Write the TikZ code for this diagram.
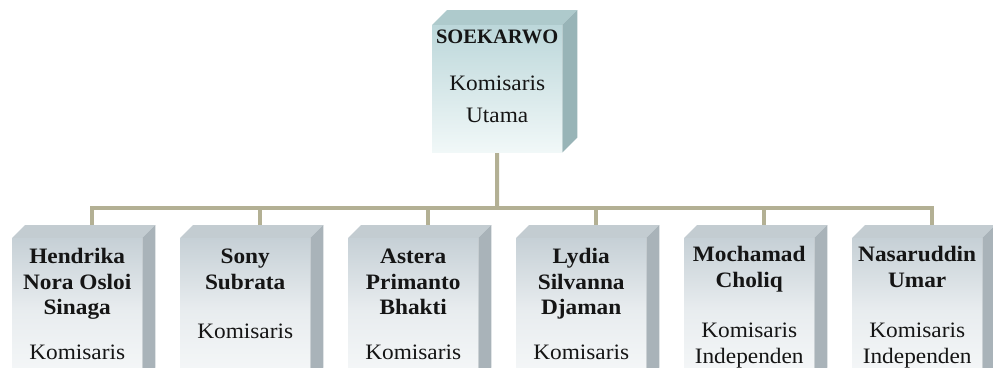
\documentclass[tikz,border=0pt]{standalone}
\usepackage{fontspec}
\setmainfont{Liberation Serif}[FakeStretch=1.06]
\newfontfamily\narrowbold{Liberation Serif}[FakeStretch=1.0]
\usetikzlibrary{calc}
\definecolor{linec}{HTML}{B3B094}
\definecolor{tfront1}{HTML}{BCD7DA}
\definecolor{tfront2}{HTML}{F1F8F8}
\definecolor{ttop}{HTML}{AECACC}
\definecolor{tside}{HTML}{98B4B7}
\definecolor{bfront1}{HTML}{C6D0D6}
\definecolor{bfront2}{HTML}{F6F8F9}
\definecolor{btop}{HTML}{C3CCD1}
\definecolor{bside}{HTML}{A9B3B9}
\definecolor{txt}{HTML}{151515}
\tikzset{
  conn/.style={draw=linec, line width=4pt},
  topfront/.style={rectangle, draw=none, minimum width=130pt, minimum height=127pt, inner sep=0pt, anchor=north west, top color=tfront1, bottom color=tfront2},
  botfront/.style={rectangle, draw=none, minimum width=130pt, minimum height=142pt, inner sep=0pt, anchor=north west, top color=bfront1, bottom color=bfront2, middle color=bfront2!70!bfront1},
  lbl/.style={anchor=base, inner sep=0pt, text=txt, font=\fontsize{22}{26}\selectfont},
  blbl/.style={lbl, font=\fontsize{22}{26}\selectfont\bfseries},
}
\begin{document}
\begin{tikzpicture}[x=1pt, y=-1pt]
\useasboundingbox (0,0) rectangle (993,367);
\clip (0,0) rectangle (993,367);
\fill[white] (0,0) rectangle (993,367);

% top box front face
\node[topfront] (top) at (432,25) {};
\coordinate (bus) at (497,208);

% bottom boxes front faces
\foreach \i in {1,...,6} {
  \pgfmathsetmacro{\xl}{12+168*(\i-1)}
  \node[botfront] (b\i) at (\xl,238) {};
  \coordinate (t\i) at ($(b\i.north west)+(80,-13)$);
}

% connectors
\draw[conn] (top.south) -- (bus);
\draw[conn, line cap=rect] (bus -| t1) -- (bus -| t6);
\foreach \i in {1,...,6} {
  \draw[conn] (bus -| t\i) -- (t\i);
}

% top box 3D faces
\fill[ttop] (top.north west) -- ++(15,-15) -- ($(top.north east)+(15,-15)$) -- (top.north east) -- cycle;
\fill[tside] (top.north east) -- ++(15,-15) -- ($(top.south east)+(15,-15)$) -- (top.south east) -- cycle;
\node[topfront] at (432,25) {};

% bottom boxes 3D faces
\foreach \i in {1,...,6} {
  \fill[btop] (b\i.north west) -- ++(13,-13) -- ($(b\i.north east)+(13,-13)$) -- (b\i.north east) -- cycle;
  \fill[bside] (b\i.north east) -- ++(13,-13) -- ($(b\i.south east)+(13,-13)$) -- (b\i.south east) -- cycle;
  \node[botfront] at ($(b\i.north west)$) {};
}

% texts top
\node[lbl, font=\fontsize{20.5}{24}\selectfont\narrowbold\bfseries] at ($(top.north)+(0,18)$) {SOEKARWO};
\node[lbl] at ($(top.north)+(0,65)$) {Komisaris};
\node[lbl] at ($(top.north)+(0,97)$) {Utama};

% texts bottom
\node[blbl] at ($(b1.north)+(0,25)$) {Hendrika};
\node[blbl] at ($(b1.north)+(0,51)$) {Nora Osloi};
\node[blbl] at ($(b1.north)+(0,76)$) {Sinaga};
\node[lbl]  at ($(b1.north)+(0,121)$) {Komisaris};

\node[blbl] at ($(b2.north)+(0,25)$) {Sony};
\node[blbl] at ($(b2.north)+(0,51)$) {Subrata};
\node[lbl]  at ($(b2.north)+(0,100)$) {Komisaris};

\node[blbl] at ($(b3.north)+(0,25)$) {Astera};
\node[blbl] at ($(b3.north)+(0,51)$) {Primanto};
\node[blbl] at ($(b3.north)+(0,76)$) {Bhakti};
\node[lbl]  at ($(b3.north)+(0,121)$) {Komisaris};

\node[blbl] at ($(b4.north)+(0,25)$) {Lydia};
\node[blbl] at ($(b4.north)+(0,51)$) {Silvanna};
\node[blbl] at ($(b4.north)+(0,76)$) {Djaman};
\node[lbl]  at ($(b4.north)+(0,121)$) {Komisaris};

\node[blbl] at ($(b5.north)+(0,23)$) {Mochamad};
\node[blbl] at ($(b5.north)+(0,49)$) {Choliq};
\node[lbl]  at ($(b5.north)+(0,99)$) {Komisaris};
\node[lbl]  at ($(b5.north)+(0,125)$) {Independen};

\node[blbl] at ($(b6.north)+(0,23)$) {Nasaruddin};
\node[blbl] at ($(b6.north)+(0,49)$) {Umar};
\node[lbl]  at ($(b6.north)+(0,99)$) {Komisaris};
\node[lbl]  at ($(b6.north)+(0,125)$) {Independen};
\end{tikzpicture}
\end{document}
